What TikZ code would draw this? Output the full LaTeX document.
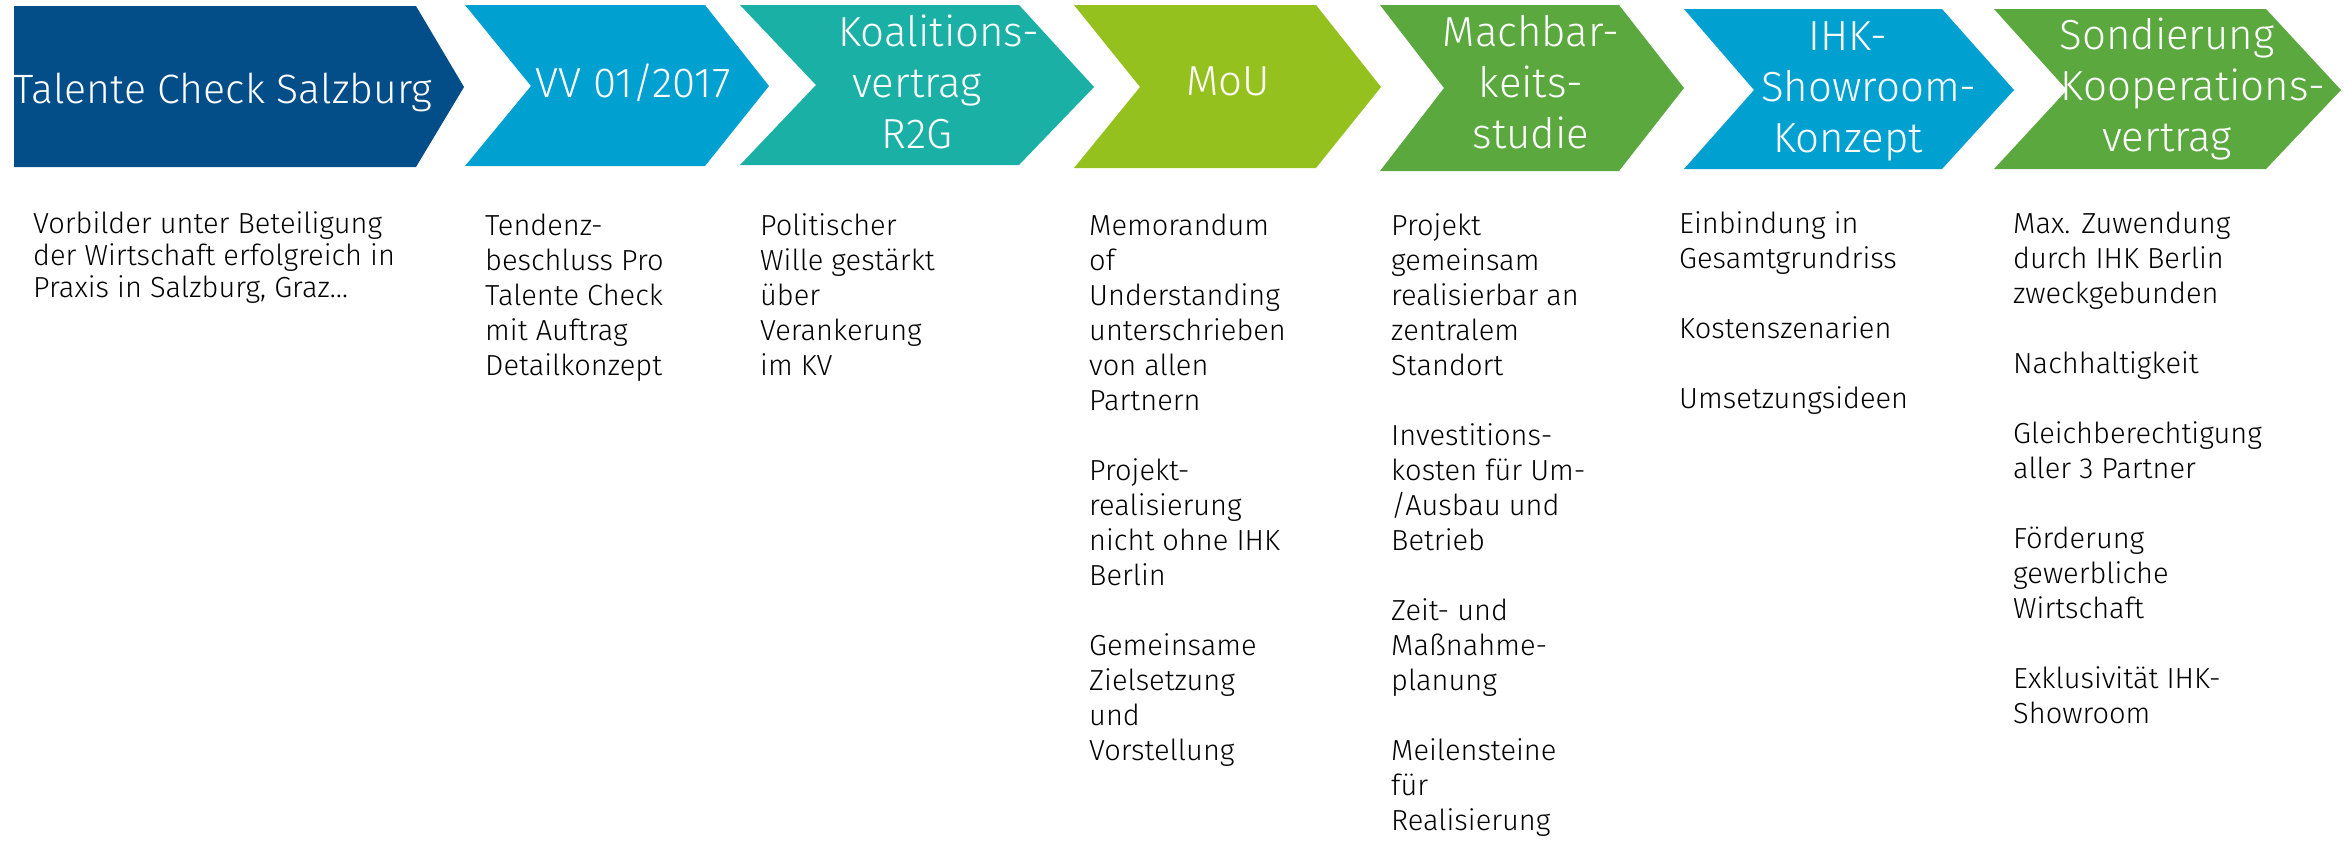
\documentclass[tikz,border=0pt]{standalone}
\usepackage{fontspec}
\newfontfamily\chevfont{Fira Sans Light}
\newfontfamily\bodyfont{Fira Sans Light}
\definecolor{cdark}{HTML}{034E89}
\definecolor{clight}{HTML}{00A0D1}
\definecolor{cteal}{HTML}{1AB0A6}
\definecolor{clime}{HTML}{95C11F}
\definecolor{cgreen}{HTML}{5AA83E}
\newcommand{\chevtext}[2][42]{\parbox[t]{600pt}{\centering\chevfont\fontsize{#1}{51}\selectfont #2}}
\newcommand{\bodytext}[2][35]{\parbox[t]{450pt}{\raggedright\bodyfont\fontsize{29}{#1}\selectfont #2}}
\tikzset{
  chevlabel/.style={anchor=base, inner sep=0pt, text=white},
  bodylabel/.style={anchor=base west, inner sep=0pt, text=black},
}
\begin{document}
\begin{tikzpicture}[x=1pt,y=-1pt]
\useasboundingbox (0,0) rectangle (2346,841);
% chevrons
\fill[cdark]  (14,6) -- (416,6) -- (464,87) -- (416,167) -- (14,167) -- cycle;
\fill[clight] (465,5) -- (705,5) -- (769,86) -- (705,166) -- (465,166) -- (531,86) -- cycle;
\fill[cteal]  (740,5) -- (1019,5) -- (1094,87) -- (1019,165) -- (740,165) -- (816,85) -- cycle;
\fill[clime]  (1074,5) -- (1316,5) -- (1381,87) -- (1316,168) -- (1074,168) -- (1140,87) -- cycle;
\fill[cgreen] (1380,5) -- (1619,5) -- (1684,88) -- (1619,171) -- (1380,171) -- (1444,88) -- cycle;
\fill[clight] (1684,9) -- (1942,9) -- (2014,90) -- (1942,169) -- (1684,169) -- (1754,90) -- cycle;
\fill[cgreen] (1994,9) -- (2266,9) -- (2341,90) -- (2266,169) -- (1994,169) -- (2067,90) -- cycle;
% chevron labels
\node[chevlabel] (t1) at (223,103) {\chevtext[41]{Talente Check Salzburg}};
\node[chevlabel] (t2) at (633,97) {\chevtext{VV 01/2017}};
\node[chevlabel] (t3) at (917,46) {\chevtext{\hspace*{44pt}Koalitions-\\vertrag\\R2G}};
\node[chevlabel] (t4) at (1228,95) {\chevtext{MoU}};
\node[chevlabel] (t5) at (1531,46) {\chevtext{Machbar-\\keits-\\studie}};
\node[chevlabel] (t6) at (1848,50) {\chevtext{IHK-\\\hspace*{42pt}Showroom-\\Konzept}};
\node[chevlabel] (t7) at (2167,49) {\chevtext{Sondierung\\\hspace*{52pt}Kooperations-\\vertrag}};
% body texts
\node[bodylabel] (b1) at (33,233) {\bodytext[32]{Vorbilder unter Beteiligung\\der Wirtschaft erfolgreich in\\Praxis in Salzburg, Graz…}};
\node[bodylabel] (b2) at (485,235) {\bodytext{Tendenz-\\beschluss Pro\\Talente Check\\mit Auftrag\\Detailkonzept}};
\node[bodylabel] (b3) at (760,235) {\bodytext{Politischer\\Wille gestärkt\\über\\Verankerung\\im KV}};
\node[bodylabel] (b4) at (1089,235) {\bodytext{Memorandum\\of\\Understanding\\unterschrieben\\von allen\\Partnern\\[35pt]Projekt-\\realisierung\\nicht ohne IHK\\Berlin\\[35pt]Gemeinsame\\Zielsetzung\\und\\Vorstellung}};
\node[bodylabel] (b5) at (1391,235) {\bodytext{Projekt\\gemeinsam\\realisierbar an\\zentralem\\Standort\\[35pt]Investitions-\\kosten für Um-\\/Ausbau und\\Betrieb\\[35pt]Zeit- und\\Maßnahme-\\planung\\[35pt]Meilensteine\\für\\Realisierung}};
\node[bodylabel] (b6) at (1679,233) {\bodytext{Einbindung in\\Gesamtgrundriss\\[35pt]Kostenszenarien\\[35pt]Umsetzungsideen}};
\node[bodylabel] (b7) at (2013,233) {\bodytext{Max. Zuwendung\\durch IHK Berlin\\zweckgebunden\\[35pt]Nachhaltigkeit\\[35pt]Gleichberechtigung\\aller 3 Partner\\[35pt]Förderung\\gewerbliche\\Wirtschaft\\[35pt]Exklusivität IHK-\\Showroom}};
\end{tikzpicture}
\end{document}
